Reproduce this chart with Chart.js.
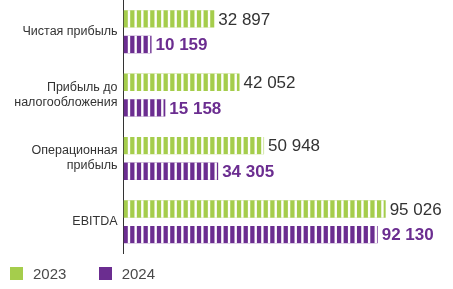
<!DOCTYPE html>
<html>
<head>
<meta charset="utf-8">
<script src="https://cdn.jsdelivr.net/npm/chart.js@4/dist/chart.umd.min.js"></script>
<style>
  html, body { margin: 0; padding: 0; background: #fff; }
  #wrap { position: relative; width: 453px; height: 289px; }
  #legend { position: absolute; left: 10px; top: 265px; font: 15px "Liberation Sans", Arial, sans-serif; color: #4a4a4a; }
  .item { position: absolute; top: 0; white-space: nowrap; line-height: 17px; }
  .box { position: absolute; top: 2px; width: 13px; height: 13px; }
  .lbl { position: absolute; left: 23px; top: 0; }
</style>
</head>
<body>
<div id="wrap">
  <canvas id="myChart" width="453" height="289"></canvas>
  <div id="legend"></div>
</div>
<script>
const categories = [
    "Чистая прибыль",
    ["Прибыль до", "налогообложения"],
    ["Операционная", "прибыль"],
    "EBITDA"
]
const seriesNames = ["2023", "2024"]
const values2023 = [32897, 42052, 50948, 95026]
const values2024 = [10159, 15158, 34305, 92130]

const green = "#a5cd4c"
const purple = "#6b2d90"
const textColor = "#333333"
const fontName = "'Liberation Sans', Arial, sans-serif"

function formatNumber(n) {
    return String(n).replace(/\B(?=(\d{3})+(?!\d))/g, " ")
}

// white gaps that cut the bars into segments
const stripes = {
    id: "stripes",
    afterDatasetsDraw(chart) {
        const ctx = chart.ctx
        const step = 6.67
        const gap = 2.37
        ctx.save()
        ctx.fillStyle = "#ffffff"
        chart.data.datasets.forEach(function (ds, i) {
            chart.getDatasetMeta(i).data.forEach(function (bar) {
                const top = bar.y - bar.height / 2
                for (let x = bar.base + step - gap; x < bar.x; x += step) {
                    ctx.fillRect(x, top, Math.min(gap, bar.x - x), bar.height)
                }
            })
        })
        ctx.restore()
    }
}

const valueLabels = {
    id: "valueLabels",
    afterDatasetsDraw(chart) {
        const ctx = chart.ctx
        ctx.save()
        ctx.textBaseline = "middle"
        ctx.textAlign = "left"
        chart.data.datasets.forEach(function (ds, i) {
            ctx.font = (i === 1 ? "bold " : "") + "17px " + fontName
            ctx.fillStyle = i === 1 ? purple : textColor
            chart.getDatasetMeta(i).data.forEach(function (bar, j) {
                ctx.fillText(formatNumber(ds.data[j]), bar.x + 4, bar.y + 1)
            })
        })
        ctx.restore()
    }
}

const ctx = document.getElementById("myChart").getContext("2d")
const chart = new Chart(ctx, {
    type: "bar",
    data: {
        labels: categories,
        datasets: [{
            label: seriesNames[0],
            data: values2023,
            backgroundColor: green,
            categoryPercentage: 0.806,
            barPercentage: 0.68
        }, {
            label: seriesNames[1],
            data: values2024,
            backgroundColor: purple,
            categoryPercentage: 0.806,
            barPercentage: 0.68
        }]
    },
    options: {
        indexAxis: "y",
        responsive: false,
        animation: false,
        layout: { padding: { top: 0, right: 20.5, bottom: 35.5, left: 0 } },
        plugins: {
            legend: { display: false },
            tooltip: { enabled: false }
        },
        scales: {
            x: {
                display: false,
                min: 0,
                max: 112000
            },
            y: {
                afterFit: function (scale) {
                    scale.width = 123.5
                    scale.paddingTop = 0
                    scale.paddingBottom = 0
                },
                grid: { display: false, drawTicks: false },
                border: { display: true, color: "#333333", width: 1 },
                ticks: {
                    padding: 6,
                    color: textColor,
                    font: { family: fontName, size: 12.5 }
                }
            }
        }
    },
    plugins: [stripes, valueLabels]
})

// legend built from the dataset names and colours
const legend = document.getElementById("legend")
const legendX = [0, 88.7]
chart.data.datasets.forEach(function (ds, i) {
    const item = document.createElement("div")
    item.className = "item"
    item.style.left = legendX[i] + "px"
    item.innerHTML = '<span class="box" style="background:' + ds.backgroundColor + '"></span><span class="lbl">' + ds.label + '</span>'
    legend.appendChild(item)
})
</script>
</body>
</html>
